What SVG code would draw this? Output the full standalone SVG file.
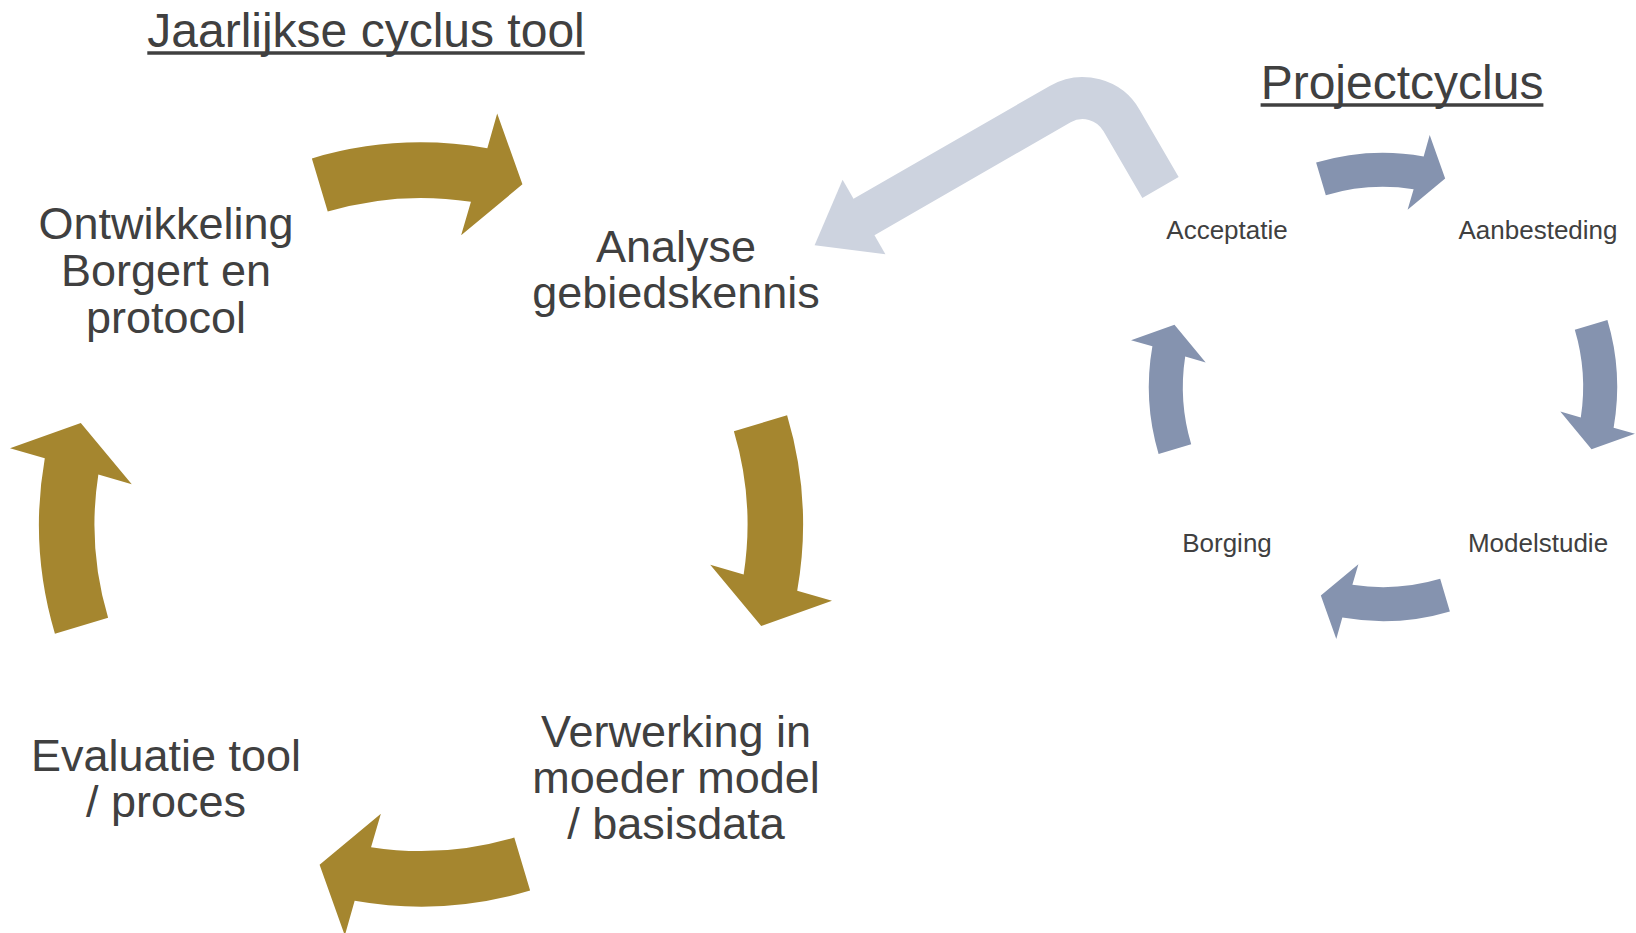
<svg xmlns="http://www.w3.org/2000/svg" xmlns:xlink="http://www.w3.org/1999/xlink" width="1636" height="933" viewBox="0 0 1636 933">
  <style>
    text { font-family: "Liberation Sans", Arial, sans-serif; fill: #404040; text-anchor: middle; }
    .title { font-size: 48px; }
    .uline { stroke: #404040; stroke-width: 3.5; }
    .big { font-size: 45px; }
    .small { font-size: 26px; }
    .gold { fill: #a5862f; }
    .blue { fill: #8593af; }
    .light { fill: #cdd3df; }
  </style>
  <defs>
    <path id="carc" d="M 366.08 -109.13 A 382 382 0 0 1 376.20 66.33 L 411.00 76.18 L 340.20 101.42 L 289.23 40.13 L 322.66 49.95 A 326.5 326.5 0 0 0 312.89 -93.28 Z"/>
  </defs>
  <rect x="0" y="0" width="1636" height="933" fill="#ffffff"/>

  <g id="connectors">
    <g id="jaarlijks-arrows" class="gold">
      <use xlink:href="#carc" href="#carc" transform="translate(421 524.5) rotate(-90)"/>
      <use xlink:href="#carc" href="#carc" transform="translate(421 524.5)"/>
      <use xlink:href="#carc" href="#carc" transform="translate(421 524.5) rotate(90)"/>
      <use xlink:href="#carc" href="#carc" transform="translate(421 524.5) rotate(180)"/>
    </g>
    <g id="project-arrows" class="blue">
      <use xlink:href="#carc" href="#carc" transform="translate(1383 387) scale(0.613) rotate(-90)"/>
      <use xlink:href="#carc" href="#carc" transform="translate(1383 387) scale(0.613)"/>
      <use xlink:href="#carc" href="#carc" transform="translate(1383 387) scale(0.613) rotate(90)"/>
      <use xlink:href="#carc" href="#carc" transform="translate(1383 387) scale(0.613) rotate(180)"/>
    </g>
    <g id="feedback-arrow">
      <path d="M 1160.5 187.5 L 1121.7 120.7 A 45 45 0 0 0 1060.2 104.1 L 861.4 218.5" fill="none" stroke="#cdd3df" stroke-width="42" stroke-linecap="butt"/>
      <polygon class="light" points="842.6,179.7 814.6,245.3 885.4,254.3"/>
    </g>
  </g>

  <g id="title-jaarlijks">
    <text class="title" x="366" y="47">Jaarlijkse cyclus tool</text>
    <line class="uline" x1="147.3" y1="53" x2="584.7" y2="53"/>
  </g>
  <g id="title-project">
    <text class="title" x="1402" y="99">Projectcyclus</text>
    <line class="uline" x1="1260.6" y1="105" x2="1543.4" y2="105"/>
  </g>

  <g id="node-ontwikkeling">
    <text class="big" x="166" y="239">Ontwikkeling</text>
    <text class="big" x="166" y="286">Borgert en</text>
    <text class="big" x="166" y="333">protocol</text>
  </g>
  <g id="node-analyse">
    <text class="big" x="676" y="262">Analyse</text>
    <text class="big" x="676" y="308">gebiedskennis</text>
  </g>
  <g id="node-verwerking">
    <text class="big" x="676" y="747">Verwerking in</text>
    <text class="big" x="676" y="793">moeder model</text>
    <text class="big" x="676" y="839">/ basisdata</text>
  </g>
  <g id="node-evaluatie">
    <text class="big" x="166" y="771">Evaluatie tool</text>
    <text class="big" x="166" y="817">/ proces</text>
  </g>

  <g id="node-acceptatie">
    <text class="small" x="1227" y="239">Acceptatie</text>
  </g>
  <g id="node-aanbesteding">
    <text class="small" x="1538" y="239">Aanbesteding</text>
  </g>
  <g id="node-modelstudie">
    <text class="small" x="1538" y="552">Modelstudie</text>
  </g>
  <g id="node-borging">
    <text class="small" x="1227" y="552">Borging</text>
  </g>
</svg>
